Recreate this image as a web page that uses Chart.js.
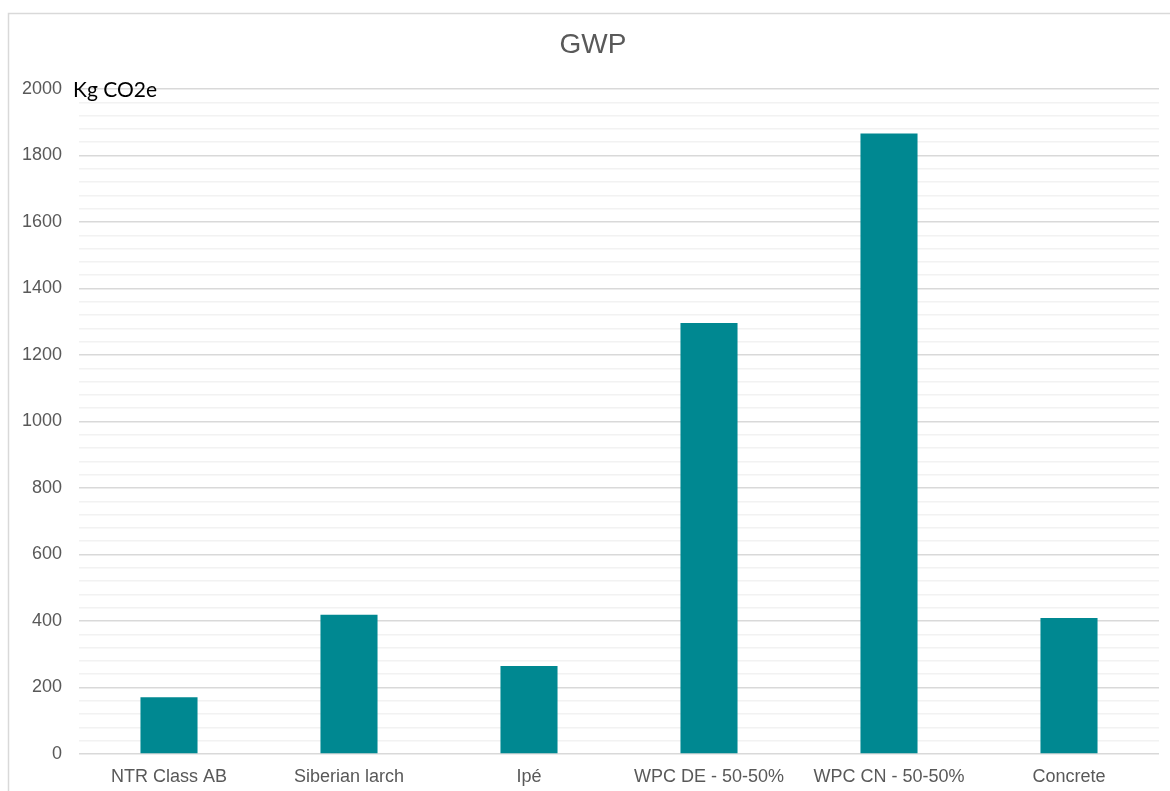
<!DOCTYPE html>
<html>
<head>
<meta charset="utf-8">
<script src="https://cdn.jsdelivr.net/npm/chart.js@4/dist/chart.umd.min.js"></script>
<style>
    body { margin: 0; background: #fff; }
    #wrap { width: 1170px; height: 791px; position: relative; }
</style>
</head>
<body>
<div id="wrap"><canvas id="gwpChart" width="1170" height="791"></canvas></div>
<script>
// data
const categories = ['NTR Class AB', 'Siberian larch', 'Ipé', 'WPC DE - 50-50%', 'WPC CN - 50-50%', 'Concrete'];
const gwpValues = [171, 419, 265, 1296, 1866, 409];
const yMin = 0;
const yMax = 2000;
const majorStep = 200;
const minorStep = 40;
const chartTitle = 'GWP';
const unitLabel = 'Kg CO2e';

const barColor = '#008891';
const textGray = '#595959';

// outer frame, title (centred on the frame, not the plot) and unit label
const decorations = {
    id: 'decorations',
    beforeDraw(chart) {
        const ctx = chart.ctx;
        ctx.save();
        ctx.fillStyle = '#ffffff';
        ctx.fillRect(0, 0, chart.width, chart.height);
        ctx.strokeStyle = '#d9d9d9';
        ctx.lineWidth = 1.5;
        ctx.strokeRect(8.5, 13.5, 2000, 2000);
        ctx.restore();
    },
    afterDraw(chart) {
        const ctx = chart.ctx;
        ctx.save();
        ctx.fillStyle = textGray;
        ctx.font = '28px "Liberation Sans", Arial, sans-serif';
        ctx.textAlign = 'center';
        ctx.textBaseline = 'middle';
        ctx.fillText(chartTitle, 593, 45);

        const y = chart.scales.y.getPixelForValue(yMax);
        ctx.fillStyle = '#000000';
        ctx.font = '21px Lato, "Open Sans", sans-serif';
        ctx.textAlign = 'left';
        ctx.fillText(unitLabel, 73, y + 1);
        ctx.restore();
    }
};

new Chart(document.getElementById('gwpChart'), {
    type: 'bar',
    data: {
        labels: categories,
        datasets: [{
            label: chartTitle,
            data: gwpValues,
            backgroundColor: barColor,
            borderWidth: 0,
            barPercentage: 0.317,
            categoryPercentage: 1.0
        }]
    },
    options: {
        responsive: false,
        animation: false,
        layout: {
            padding: { left: 10, right: 11, top: 89, bottom: 0 }
        },
        plugins: {
            legend: { display: false },
            tooltip: { enabled: false },
            title: { display: false }
        },
        scales: {
            x: {
                afterFit(scale) { scale.height = 37; },
                grid: { display: false, drawTicks: false },
                border: { display: false },
                ticks: {
                    color: textGray,
                    padding: 12,
                    maxRotation: 0,
                    font: { family: '"Liberation Sans", Arial, sans-serif', size: 18 }
                }
            },
            y: {
                min: yMin,
                max: yMax,
                afterFit(scale) { scale.width = 69; },
                border: { display: false },
                grid: {
                    drawTicks: false,
                    lineWidth: 1.5,
                    color: (c) => (c.tick && c.tick.value % majorStep === 0) ? '#d9d9d9' : '#f2f2f2'
                },
                ticks: {
                    stepSize: minorStep,
                    autoSkip: false,
                    color: textGray,
                    padding: 17,
                    font: { family: '"Liberation Sans", Arial, sans-serif', size: 18 },
                    callback: function(value) {
                        return value % majorStep === 0 ? value : '';
                    }
                }
            }
        }
    },
    plugins: [decorations]
});
</script>
</body>
</html>
